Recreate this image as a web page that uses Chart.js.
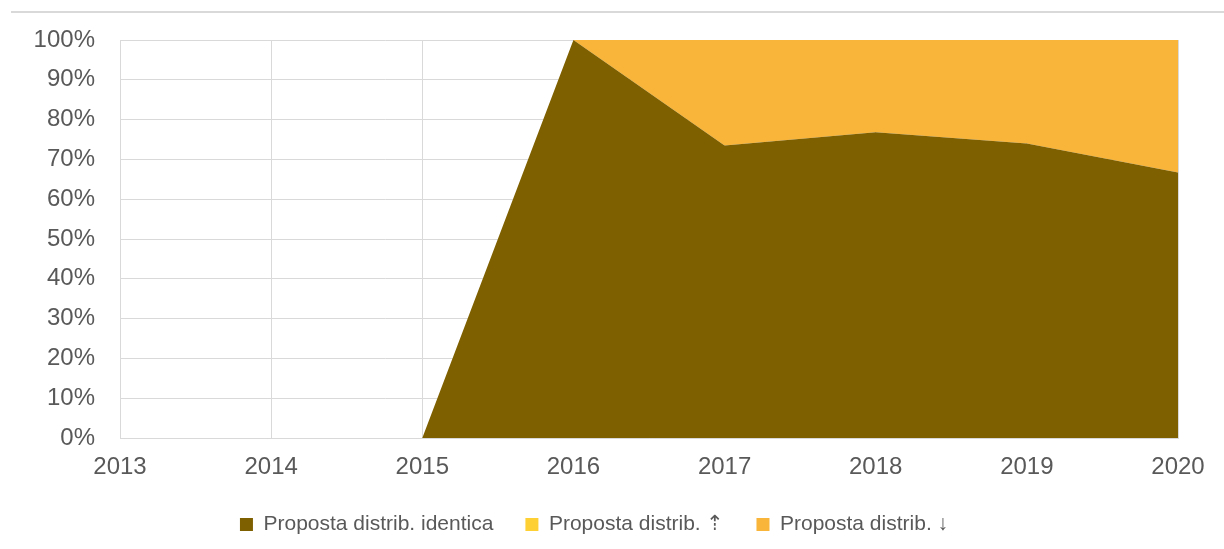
<!DOCTYPE html>
<html>
<head>
<meta charset="utf-8">
<script src="https://cdn.jsdelivr.net/npm/chart.js@4/dist/chart.umd.min.js"></script>
<style>
  html, body { margin: 0; padding: 0; background: #fff; }
  #wrap { position: relative; width: 1224px; height: 549px; }
  #topline { position: absolute; left: 11px; right: 0; top: 11px; border-top: 2px solid #d9d9d9; }
  canvas { position: absolute; left: 0; top: 0; }
</style>
</head>
<body>
<div id="wrap">
  <div id="topline"></div>
  <canvas id="chart" width="1224" height="549"></canvas>
</div>
<script>
// Dati (percentuali)
const anni = ['2013', '2014', '2015', '2016', '2017', '2018', '2019', '2020'];
const identica = [0, 0, 0, 100, 73.5, 76.8, 74, 66.7];
const versoAlto = [0, 0, 0, 0, 0, 0, 0, 0];
const versoBasso = [0, 0, 0, 0, 26.5, 23.2, 26, 33.3];
const tickY = [0, 10, 20, 30, 40, 50, 60, 70, 80, 90, 100];

const testo = '#595959';
const griglia = '#d9d9d9';
const font = 'Liberation Sans, Arial, sans-serif';

// altezza fissa della legenda
const legendaAltezza = {
    id: 'legendaAltezza',
    beforeLayout(chart) {
        const leg = chart.legend;
        if (!leg || leg._patched) return;
        const orig = leg.fit;
        leg.fit = function () {
            orig.call(this);
            this.height = 67;
        };
        leg._patched = true;
    }
};

function serie(label, data, colore, fill) {
    return {
        label: label,
        data: data,
        backgroundColor: colore,
        borderColor: 'transparent',
        borderWidth: 0,
        pointRadius: 0,
        pointHoverRadius: 0,
        tension: 0,
        fill: fill
    };
}

new Chart(document.getElementById('chart').getContext('2d'), {
    type: 'line',
    data: {
        labels: anni,
        datasets: [
            serie('Proposta distrib. identica', identica, '#7f6000', 'origin'),
            serie('Proposta distrib. \u21E1', versoAlto, '#ffd033', '-1'),
            serie('Proposta distrib. \u2193', versoBasso, '#f9b43a', '-1')
        ]
    },
    options: {
        responsive: false,
        animation: false,
        layout: { padding: { left: 10, right: 46, top: 40, bottom: 0 } },
        plugins: {
            tooltip: { enabled: false },
            legend: {
                position: 'bottom',
                labels: {
                    boxWidth: 13,
                    boxHeight: 13,
                    padding: 32,
                    color: testo,
                    font: { family: font, size: 21 }
                }
            }
        },
        scales: {
            x: {
                offset: false,
                grid: { color: griglia, drawTicks: false },
                border: { color: griglia },
                ticks: {
                    color: testo,
                    font: { family: font, size: 24 },
                    padding: 15,
                    maxRotation: 0,
                    autoSkip: false
                },
                afterFit(s) { s.height = 44; }
            },
            y: {
                stacked: true,
                min: 0,
                max: 100,
                afterBuildTicks(s) { s.ticks = tickY.map(v => ({ value: v })); },
                grid: { color: griglia, drawTicks: false },
                border: { color: griglia },
                ticks: {
                    color: testo,
                    font: { family: font, size: 24 },
                    padding: 25,
                    callback: v => v + '%'
                },
                afterFit(s) { s.width = 110; }
            }
        }
    },
    plugins: [legendaAltezza]
});
</script>
</body>
</html>
